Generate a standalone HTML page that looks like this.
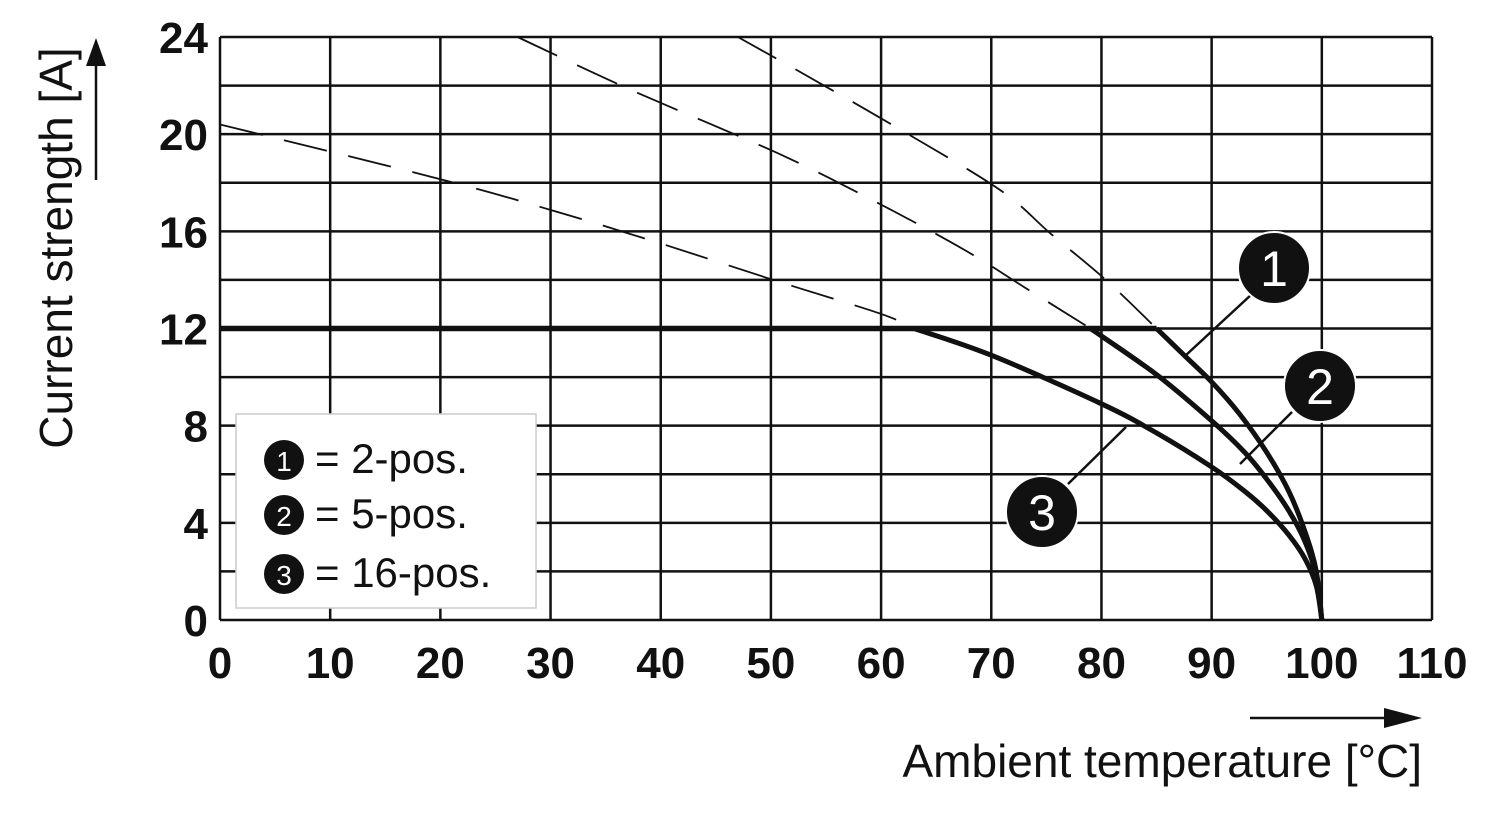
<!DOCTYPE html>
<html><head><meta charset="utf-8"><style>
html,body{margin:0;padding:0;background:#fff}
svg{display:block}
text{font-family:"Liberation Sans",Arial,sans-serif;fill:#111}
</style></head><body>
<svg id="chart" width="1500" height="820" viewBox="0 0 1500 820" xmlns="http://www.w3.org/2000/svg">
<g id="grid"></g>
<g id="series"></g>
<g id="ticks"></g>
<g>
<text x="72" y="248" font-size="46" text-anchor="middle" transform="rotate(-90 72 248)">Current strength [A]</text>
<line x1="96" y1="180" x2="96" y2="62" stroke="#111" stroke-width="2.5"/>
<polygon points="96,38 86,66 106,66" fill="#111"/>
</g>
<g>
<line x1="1250" y1="718" x2="1396" y2="718" stroke="#111" stroke-width="2.5"/>
<polygon points="1422,718 1384,708 1384,728" fill="#111"/>
<text x="1422" y="777" font-size="46" text-anchor="end">Ambient temperature [°C]</text>
</g>
<g>
<rect x="236" y="414" width="300" height="194" fill="#fff" stroke="#ccc" stroke-width="1.5"/>
<g><circle cx="284" cy="460" r="20" fill="#111"/><text x="284" y="471" font-size="28" text-anchor="middle" style="fill:#fff">1</text><text x="315" y="473" font-size="42">= 2-pos.</text></g>
<g><circle cx="284" cy="515" r="20" fill="#111"/><text x="284" y="526" font-size="28" text-anchor="middle" style="fill:#fff">2</text><text x="315" y="528" font-size="42">= 5-pos.</text></g>
<g><circle cx="284" cy="574" r="20" fill="#111"/><text x="284" y="585" font-size="28" text-anchor="middle" style="fill:#fff">3</text><text x="315" y="587" font-size="42">= 16-pos.</text></g>
</g>
<g>
<line x1="1185" y1="356" x2="1252" y2="294" stroke="#111" stroke-width="2.5"/>
<line x1="1240" y1="464" x2="1292" y2="412" stroke="#111" stroke-width="2.5"/>
<line x1="1126" y1="427" x2="1068" y2="484" stroke="#111" stroke-width="2.5"/>
<g><circle cx="1274" cy="268" r="36" fill="#111" stroke="#fff" stroke-width="2"/><text x="1274" y="286" font-size="50" text-anchor="middle" style="fill:#fff">1</text></g>
<g><circle cx="1320" cy="386" r="36" fill="#111" stroke="#fff" stroke-width="2"/><text x="1320" y="404" font-size="50" text-anchor="middle" style="fill:#fff">2</text></g>
<g><circle cx="1042" cy="512" r="36" fill="#111" stroke="#fff" stroke-width="2"/><text x="1042" y="530" font-size="50" text-anchor="middle" style="fill:#fff">3</text></g>
</g>
</svg>
<script>
const xTicks=[0,10,20,30,40,50,60,70,80,90,100,110];
const yTicks=[0,4,8,12,16,20,24];
const yGrid=[0,2,4,6,8,10,12,14,16,18,20,22,24];
const ratedCurrent=12;
const c1T=[47,52.5,61.7,70.8,75.4,80.4,85,87.5,90,92.5,95,97,98.5,99.5,100];
const c1I=[24,22.6,20.2,17.7,15.9,14.0,12,10.9,9.8,8.5,6.9,5.3,3.6,2,0];
const c2T=[27,37.4,50.7,60,67.7,73,79,85,90,93,95,97,98.5,99.5,100];
const c2I=[24,21.8,19.2,17.1,15.2,13.7,12,10.1,8.2,6.9,5.8,4.5,3.2,1.8,0];
const c3T=[0,20.4,30.6,40,50.9,60,63,70,80,85,90,93,95,97,98.5,99.5,100];
const c3I=[20.4,18.1,16.8,15.5,13.9,12.6,12,10.9,8.9,7.7,6.3,5.3,4.5,3.5,2.5,1.4,0];
const X0=220,X1=1432,Y0=620,Y1=37;
const xs=t=>X0+(X1-X0)*t/110;
const ys=v=>Y0-(Y0-Y1)*v/24;
const NS="http://www.w3.org/2000/svg";
function mk(tag,parent){const e=document.createElementNS(NS,tag);parent.appendChild(e);return e;}
const grid=document.getElementById('grid'),series=document.getElementById('series'),ticks=document.getElementById('ticks');
xTicks.forEach(t=>{const l=mk('line',grid);l.setAttribute('x1',xs(t));l.setAttribute('x2',xs(t));l.setAttribute('y1',Y1);l.setAttribute('y2',Y0);l.setAttribute('stroke','#111');l.setAttribute('stroke-width','2.5');


const tx=mk('text',ticks);tx.setAttribute('x',xs(t));tx.setAttribute('y',678);tx.setAttribute('font-size','44');tx.setAttribute('font-weight','bold');tx.setAttribute('text-anchor','middle');tx.textContent=t;

});
yGrid.forEach(v=>{const l=mk('line',grid);l.setAttribute('x1',X0);l.setAttribute('x2',X1);l.setAttribute('y1',ys(v));l.setAttribute('y2',ys(v));l.setAttribute('stroke','#111');l.setAttribute('stroke-width','2.5');

});
yTicks.forEach(v=>{const tx=mk('text',ticks);tx.setAttribute('x',208);tx.setAttribute('y',ys(v)+16);tx.setAttribute('font-size','44');tx.setAttribute('font-weight','bold');tx.setAttribute('text-anchor','end');tx.textContent=v;

});
function smooth(pts){
  if(pts.length<2)return '';
  let d='M'+pts[0][0]+','+pts[0][1];
  for(let i=0;i<pts.length-1;i++){
    const p0=pts[i-1]||pts[i],p1=pts[i],p2=pts[i+1],p3=pts[i+2]||p2;
    const c1=[p1[0]+(p2[0]-p0[0])/6,p1[1]+(p2[1]-p0[1])/6];
    const c2=[p2[0]-(p3[0]-p1[0])/6,p2[1]-(p3[1]-p1[1])/6];
    d+=' C'+c1[0]+','+c1[1]+' '+c2[0]+','+c2[1]+' '+p2[0]+','+p2[1];
  }
  return d;
}
function drawCurve(T,I,name){
  let dash=[],solid=[];
  T.forEach((t,i)=>{const p=[xs(t),ys(I[i])];if(I[i]>=ratedCurrent)dash.push(p);if(I[i]<=ratedCurrent)solid.push(p);});
  const d=mk('path',series);d.setAttribute('d',smooth(dash));d.setAttribute('fill','none');d.setAttribute('stroke','#111');d.setAttribute('stroke-width','1.8');d.setAttribute('stroke-dasharray','44 22');
  
  
  const s=mk('path',series);s.setAttribute('d',smooth(solid));s.setAttribute('fill','none');s.setAttribute('stroke','#111');s.setAttribute('stroke-width','5');s.setAttribute('stroke-linejoin','round');
  
  
}
drawCurve(c1T,c1I,'curve-2-pos');
drawCurve(c2T,c2I,'curve-5-pos');
drawCurve(c3T,c3I,'curve-16-pos');
const h=mk('line',series);h.setAttribute('x1',xs(0));h.setAttribute('x2',xs(c1T[c1I.indexOf(ratedCurrent)]));h.setAttribute('y1',ys(ratedCurrent));h.setAttribute('y2',ys(ratedCurrent));h.setAttribute('stroke','#111');h.setAttribute('stroke-width','5.5');


</script>
</body></html>
